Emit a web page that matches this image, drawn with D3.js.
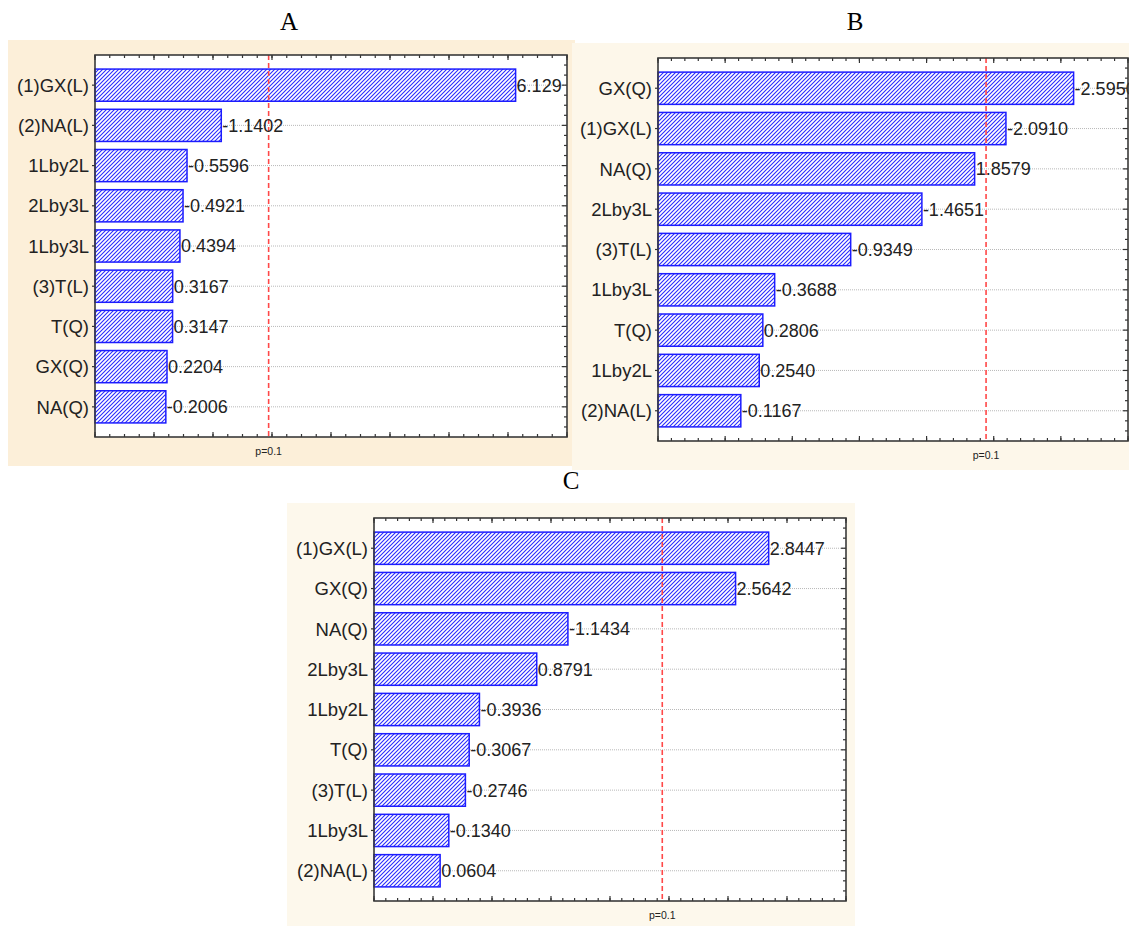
<!DOCTYPE html>
<html>
<head>
<meta charset="utf-8">
<script src="https://cdn.jsdelivr.net/npm/d3@7"></script>
<style>
  html, body { margin: 0; padding: 0; background: #ffffff; }
  svg { display: block; }
  text { font-family: "Liberation Sans", Arial, sans-serif; }
</style>
</head>
<body>
<svg id="chart" width="1129" height="926"></svg>
<script>
// ---- Data ----
const titles = ["A", "B", "C"];

const categoriesA = ["(1)GX(L)", "(2)NA(L)", "1Lby2L", "2Lby3L", "1Lby3L", "(3)T(L)", "T(Q)", "GX(Q)", "NA(Q)"];
const valuesA = [6.129, -1.1402, -0.5596, -0.4921, 0.4394, 0.3167, 0.3147, 0.2204, -0.2006];
const labelsA = ["6.129", "-1.1402", "-0.5596", "-0.4921", "0.4394", "0.3167", "0.3147", "0.2204", "-0.2006"];

const categoriesB = ["GX(Q)", "(1)GX(L)", "NA(Q)", "2Lby3L", "(3)T(L)", "1Lby3L", "T(Q)", "1Lby2L", "(2)NA(L)"];
const valuesB = [-2.5950, -2.0910, 1.8579, -1.4651, -0.9349, -0.3688, 0.2806, 0.2540, -0.1167];
const labelsB = ["-2.5950", "-2.0910", "1.8579", "-1.4651", "-0.9349", "-0.3688", "0.2806", "0.2540", "-0.1167"];

const categoriesC = ["(1)GX(L)", "GX(Q)", "NA(Q)", "2Lby3L", "1Lby2L", "T(Q)", "(3)T(L)", "1Lby3L", "(2)NA(L)"];
const valuesC = [2.8447, 2.5642, -1.1434, 0.8791, -0.3936, -0.3067, -0.2746, -0.1340, 0.0604];
const labelsC = ["2.8447", "2.5642", "-1.1434", "0.8791", "-0.3936", "-0.3067", "-0.2746", "-0.1340", "0.0604"];

const domainsX = [[-1, 7], [-0.5, 3.0], [-0.5, 3.5]];
const majorStep = [1, 0.5, 0.5];
const minorStep = [0.25, 0.1, 0.1];
const pCritical = 1.943;
const pLabel = "p=0.1";

// ---- Layout ----
const svg = d3.select("#chart");

const defs = svg.append("defs");
const pat = defs.append("pattern")
  .attr("id", "hatch")
  .attr("patternUnits", "userSpaceOnUse")
  .attr("width", 4).attr("height", 4);
pat.append("rect").attr("width", 4).attr("height", 4).attr("fill", "#ffffff");
pat.append("path")
  .attr("d", "M-1,1 l2,-2 M0,4 l4,-4 M3,5 l2,-2")
  .attr("stroke", "#2a2aff").attr("stroke-width", 1.1);

const panels = [
  { title: titles[0], titleX: 289, titleY: 30, bg: [8, 40, 567, 426], bgColor: "#fcefd9",
    plot: [95, 55, 567, 437], cats: categoriesA, vals: valuesA, labels: labelsA,
    dom: domainsX[0], major: majorStep[0], minor: minorStep[0] },
  { title: titles[1], titleX: 855, titleY: 30, bg: [572, 43, 557, 427], bgColor: "#fdf7ea",
    plot: [658, 58, 1128, 441], cats: categoriesB, vals: valuesB, labels: labelsB,
    dom: domainsX[1], major: majorStep[1], minor: minorStep[1] },
  { title: titles[2], titleX: 571, titleY: 489, bg: [287, 503, 568, 423], bgColor: "#fdf8ec",
    plot: [374, 518, 846, 901], cats: categoriesC, vals: valuesC, labels: labelsC,
    dom: domainsX[2], major: majorStep[2], minor: minorStep[2] }
];

panels.forEach((p, i) => {
  const g = svg.append("g");
  g.append("rect")
    .attr("x", p.bg[0]).attr("y", p.bg[1])
    .attr("width", p.bg[2]).attr("height", p.bg[3])
    .attr("fill", p.bgColor);
  svg.append("text")
    .attr("x", p.titleX).attr("y", p.titleY)
    .attr("text-anchor", "middle")
    .style("font-family", "'Liberation Serif', 'Times New Roman', serif")
    .style("font-size", "25px")
    .attr("fill", "#000")
    .text(p.title);

  const [x0, y0, x1, y1] = p.plot;
  const x = d3.scaleLinear().domain(p.dom).range([x0, x1]);
  const y = d3.scaleBand().domain(p.cats).range([y0, y1]).paddingInner(0.2).paddingOuter(0.35);

  g.append("rect").attr("x", x0).attr("y", y0).attr("width", x1 - x0).attr("height", y1 - y0)
    .attr("fill", "#ffffff");

  g.append("g").selectAll("line").data(p.cats).join("line")
    .attr("x1", x0).attr("x2", x1)
    .attr("y1", d => y(d) + y.bandwidth() / 2).attr("y2", d => y(d) + y.bandwidth() / 2)
    .attr("stroke", "#b8b8b8").attr("stroke-width", 1).attr("stroke-dasharray", "1,1");

  const data = p.cats.map((c, k) => ({ c, v: p.vals[k], l: p.labels[k] }));

  g.append("g").selectAll("rect").data(data).join("rect")
    .attr("x", x(p.dom[0]))
    .attr("y", d => y(d.c))
    .attr("width", d => x(Math.abs(d.v)) - x(p.dom[0]))
    .attr("height", y.bandwidth())
    .attr("fill", "url(#hatch)")
    .attr("stroke", "#1c1cff").attr("stroke-width", 1.5);

  g.append("line")
    .attr("x1", x(pCritical)).attr("x2", x(pCritical))
    .attr("y1", y0).attr("y2", y1)
    .attr("stroke", "#ff4848").attr("stroke-width", 1.6).attr("stroke-dasharray", "5,3");

  g.append("g").selectAll("text").data(data).join("text")
    .attr("x", d => x(Math.abs(d.v)) + 1)
    .attr("y", d => y(d.c) + y.bandwidth() / 2)
    .attr("dy", "0.36em")
    .style("font-size", "18px")
    .attr("fill", "#222")
    .text(d => d.l);

  g.append("g").selectAll("text").data(p.cats).join("text")
    .attr("x", x0 - 6)
    .attr("y", d => y(d) + y.bandwidth() / 2)
    .attr("dy", "0.36em")
    .attr("text-anchor", "end")
    .style("font-size", "18.5px")
    .attr("fill", "#222")
    .text(d => d);

  const tickColor = "#333";
  const minorTicks = d3.range(p.dom[0], p.dom[1] + 1e-9, p.minor);
  const majorTicks = d3.range(p.dom[0], p.dom[1] + 1e-9, p.major);
  const tg = g.append("g").attr("stroke", tickColor).attr("stroke-width", 1.2);
  tg.selectAll("line.tm").data(minorTicks).join("line").attr("class", "tm")
    .attr("x1", d => x(d)).attr("x2", d => x(d)).attr("y1", y0).attr("y2", y0 + 3);
  tg.selectAll("line.bm").data(minorTicks).join("line").attr("class", "bm")
    .attr("x1", d => x(d)).attr("x2", d => x(d)).attr("y1", y1).attr("y2", y1 - 3);
  tg.selectAll("line.bM").data(majorTicks).join("line").attr("class", "bM")
    .attr("x1", d => x(d)).attr("x2", d => x(d)).attr("y1", y1).attr("y2", y1 - 5);
  tg.selectAll("line.tM").data(majorTicks).join("line").attr("class", "tM")
    .attr("x1", d => x(d)).attr("x2", d => x(d)).attr("y1", y0).attr("y2", y0 + 5);

  const step = y.step();
  const rightTicks = [];
  p.cats.forEach(c => {
    const cy = y(c) + y.bandwidth() / 2;
    [-0.5, -0.25, 0, 0.25].forEach(f => rightTicks.push({ yy: cy + f * step, major: f === 0 }));
  });
  rightTicks.push({ yy: y(p.cats[p.cats.length - 1]) + y.bandwidth() / 2 + 0.5 * step, major: false });
  tg.selectAll("line.rt").data(rightTicks.filter(t => t.yy > y0 + 1 && t.yy < y1 - 1)).join("line").attr("class", "rt")
    .attr("x1", x1).attr("x2", d => x1 - (d.major ? 5 : 3))
    .attr("y1", d => d.yy).attr("y2", d => d.yy);
  tg.selectAll("line.lt").data(p.cats).join("line").attr("class", "lt")
    .attr("x1", x0).attr("x2", x0 - 3)
    .attr("y1", d => y(d) + y.bandwidth() / 2).attr("y2", d => y(d) + y.bandwidth() / 2);

  g.append("rect").attr("x", x0).attr("y", y0).attr("width", x1 - x0).attr("height", y1 - y0)
    .attr("fill", "none").attr("stroke", "#3a3a3a").attr("stroke-width", 1.6);

  g.append("text")
    .attr("x", x(pCritical)).attr("y", y1 + 18)
    .attr("text-anchor", "middle")
    .style("font-size", "10.5px")
    .attr("fill", "#222")
    .text(pLabel);
});
</script>
</body>
</html>
